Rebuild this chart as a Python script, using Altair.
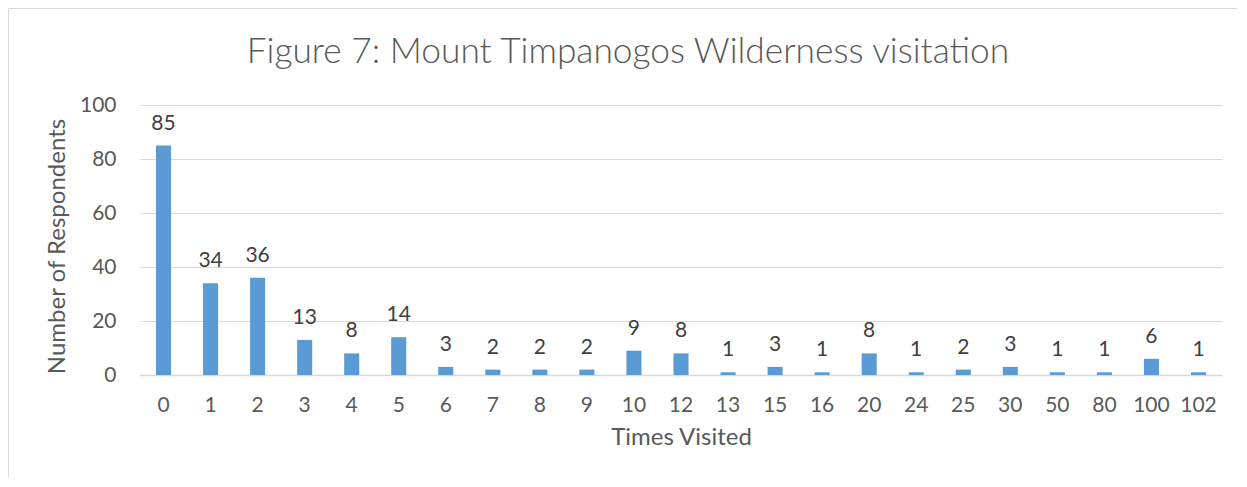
import altair as alt
import pandas as pd

categories = ["0", "1", "2", "3", "4", "5", "6", "7", "8", "9", "10", "12", "13",
              "15", "16", "20", "24", "25", "30", "50", "80", "100", "102"]
counts = [85, 34, 36, 13, 8, 14, 3, 2, 2, 2, 9, 8, 1, 3, 1, 8, 1, 2, 3, 1, 1, 6, 1]
title_text = "Figure 7: Mount Timpanogos Wilderness visitation"

df = pd.DataFrame({"times": categories, "n": counts})

FONT = "Lato"
TXT = "#595959"
W, H = 1082, 270

base = alt.Chart(df).encode(
    x=alt.X("times:N", sort=categories,
            scale=alt.Scale(paddingInner=0.68, paddingOuter=0.34),
            axis=alt.Axis(title="Times Visited", labelAngle=0, ticks=False,
                          domainColor="#d9d9d9", domainWidth=1.5,
                          labelFontSize=21, labelColor=TXT, labelFont=FONT,
                          labelPadding=30, labelBaseline="middle",
                          titleFontSize=24, titleColor=TXT, titleFont=FONT,
                          titleFontWeight="normal", titleY=62, titleBaseline="middle")),
    y=alt.Y("n:Q", scale=alt.Scale(domain=[0, 100]),
            axis=alt.Axis(title="Number of Respondents", values=[0, 20, 40, 60, 80, 100],
                          ticks=False, domain=False, gridColor="#d9d9d9",
                          labelFontSize=21, labelColor=TXT, labelFont=FONT,
                          labelPadding=24,
                          titleFontSize=24, titleColor=TXT, titleFont=FONT,
                          titleFontWeight="normal", titleX=-83, titleY=141,
                          titleBaseline="middle", titleAngle=-90)),
)

bars = base.mark_bar(color="#5B9BD5")
labels = base.mark_text(baseline="alphabetic", dy=-16, fontSize=21, font=FONT,
                        color="#404040").encode(text="n:Q")

title = alt.Chart(pd.DataFrame({"t": [title_text]})).mark_text(
    font=FONT, fontSize=35.3, fontWeight=300, color=TXT, align="center", baseline="alphabetic"
).encode(text="t:N", x=alt.value(488), y=alt.value(-42))

frame_top = alt.Chart(pd.DataFrame({"a": [0]})).mark_rule(color="#d9d9d9", strokeWidth=1).encode(
    x=alt.value(-131.5), x2=alt.value(W + 20), y=alt.value(-96.5))
frame_left = alt.Chart(pd.DataFrame({"a": [0]})).mark_rule(color="#d9d9d9", strokeWidth=1).encode(
    x=alt.value(-131.5), y=alt.value(-96.5), y2=alt.value(H + 110))

chart = alt.layer(frame_top, frame_left, bars, labels, title).properties(
    width=W, height=H,
    autosize=alt.AutoSizeParams(type="none"),
    padding={"left": 132, "top": 97, "right": 15, "bottom": 102},
    background="white",
).configure_view(stroke=None)

chart.save("out.html", embed_options={"renderer": "svg", "actions": False})
